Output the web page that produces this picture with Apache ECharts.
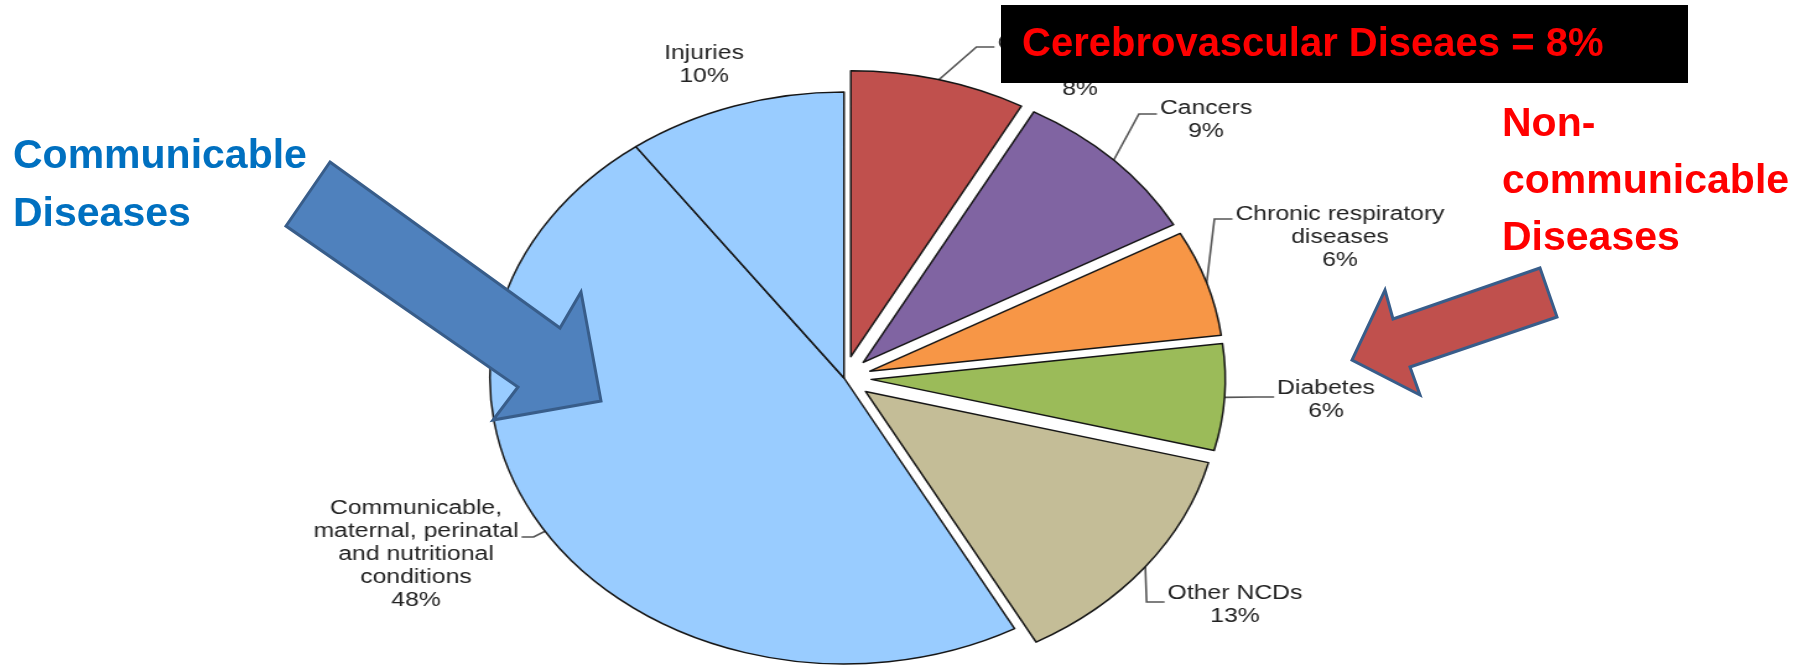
<!DOCTYPE html>
<html>
<head>
<meta charset="utf-8">
<script src="https://cdn.jsdelivr.net/npm/echarts@6/dist/echarts.min.js"></script>
<style>
  html, body { margin: 0; padding: 0; background: #fff; }
  #wrap { position: relative; width: 1808px; height: 666px; overflow: hidden; background: #fff; }
  #pie { position: absolute; left: 0; top: 0; height: 666px; transform-origin: 0 0; }
  #ann { position: absolute; left: 0; top: 0; width: 1808px; height: 666px; }
</style>
</head>
<body>
<div id="wrap"><div id="pie"></div><div id="ann"></div></div>
<script>
// ---- data ----
const categories = [
  'Cardiovascular\ndiseases',
  'Cancers',
  'Chronic respiratory\ndiseases',
  'Diabetes',
  'Other NCDs',
  'Communicable,\nmaternal, perinatal\nand nutritional\nconditions',
  'Injuries'
];
const values = [8, 9, 6, 6, 13, 48, 10];
const exploded = [true, true, true, true, true, false, false];

// ---- styling / layout ----
const SCALE_X = 1.238;               // the original pie is drawn as an ellipse
const W = 1808, H = 666;
const pieW = W / SCALE_X;
const CX = 844 / SCALE_X, CY = 378, R = 286, OFF = 22;
const colors = ['#C0504D', '#8064A2', '#F79646', '#9BBB59', '#C4BD97', '#99CCFF', '#99CCFF'];
// label centre x, centre y and leader-line anchor y, in page pixels
const labelPosPage = [[1080, 66, 47], [1206, 120, 114], [1340, 237, 219], [1326, 400, 397], [1235, 605, 602], [416, 554, 537], [704, 65, null]];

const total = values.reduce((a, b) => a + b, 0);
const midDeg = [];
{ let cum = 0; values.forEach(v => { midDeg.push((cum + v / 2) / total * 360); cum += v; }); }
function centerOf(i) {
  if (!exploded[i]) return [CX, CY];
  const a = midDeg[i] * Math.PI / 180;
  return [CX + OFF * Math.sin(a), CY - OFF * Math.cos(a)];
}

const pieEl = document.getElementById('pie');
pieEl.style.width = pieW + 'px';
pieEl.style.transform = 'scaleX(' + SCALE_X + ')';

const labelText = {
  show: true,
  position: 'outside',
  fontFamily: 'Liberation Sans',
  fontSize: 20,
  lineHeight: 23,
  color: '#222',
  formatter: p => p.name.split('\n').concat(p.value + '%').map(s => '{c|' + s + '}').join('\n'),
  rich: { c: { align: 'center', fontFamily: 'Liberation Sans', fontSize: 20, lineHeight: 23, color: '#222' } }
};

function makeSeries(visible, center) {
  return {
    type: 'pie',
    center: center,
    radius: R,
    startAngle: 90,
    clockwise: true,
    avoidLabelOverlap: false,
    emphasis: { disabled: true },
    label: labelText,
    labelLine: { show: true, length: 10, length2: 14, lineStyle: { color: '#555', width: 1.6 } },
    labelLayout: params => {
      const i = params.dataIndex;
      if (!visible[i]) return {};
      const p = labelPosPage[i];
      const x = p[0] / SCALE_X, y = p[1];
      const out = { x: x, y: y, align: 'center', verticalAlign: 'middle' };
      if (p[2] != null) {
        const c = centerOf(i);
        const a = midDeg[i] * Math.PI / 180;
        const p0 = [c[0] + R * Math.sin(a), c[1] - R * Math.cos(a)];
        const w = params.labelRect.width;
        const right = p[0] > 844;
        const edge = right ? x - w / 2 - 3 / SCALE_X : x + w / 2 + 3 / SCALE_X;
        const p1x = right ? edge - 18 / SCALE_X : edge + 12 / SCALE_X;
        out.labelLinePoints = [p0, [p1x, p[2]], [edge, p[2]]];
      }
      return out;
    },
    data: categories.map((name, i) => visible[i] ? {
      name: name,
      value: values[i],
      itemStyle: { color: colors[i], borderColor: '#151515', borderWidth: 1.5 },
      label: { show: true },
      labelLine: { show: labelPosPage[i][2] != null }
    } : {
      name: name,
      value: values[i],
      itemStyle: { color: 'rgba(0,0,0,0)', borderWidth: 0 },
      label: { show: false },
      labelLine: { show: false }
    })
  };
}

const series = [makeSeries(exploded.map(e => !e), [CX, CY])];
exploded.forEach((e, i) => {
  if (e) series.push(makeSeries(exploded.map((_, j) => j === i), centerOf(i)));
});

const pieChart = echarts.init(pieEl, null, { renderer: 'canvas', width: pieW, height: H });
pieChart.setOption({ animation: false, backgroundColor: 'transparent', series: series });

const annChart = echarts.init(document.getElementById('ann'), null, { renderer: 'canvas', width: W, height: H });
const bold = 'bold 41px "Liberation Sans", Arial, sans-serif';
annChart.setOption({
  animation: false,
  backgroundColor: 'transparent',
  graphic: [
    { type: 'rect', shape: { x: 1001, y: 5, width: 687, height: 78 }, style: { fill: '#000' } },
    { type: 'text', x: 1022, y: 45, style: { text: 'Cerebrovascular Diseaes = 8%', fill: '#FF0000', font: 'bold 40px "Liberation Sans", Arial, sans-serif', verticalAlign: 'middle' } },
    { type: 'text', x: 13, y: 128, style: { text: 'Communicable\nDiseases', fill: '#0070C0', font: bold, lineHeight: 57.5, verticalAlign: 'top' } },
    { type: 'text', x: 1502, y: 96.5, style: { text: 'Non-\ncommunicable\nDiseases', fill: '#FF0000', font: bold, lineHeight: 57, verticalAlign: 'top' } },
    { type: 'polygon', shape: { points: [[330, 162], [560, 328], [581, 292], [601, 401], [493, 420], [518, 387], [286, 226]] },
      style: { fill: '#4F81BD', stroke: '#385D8A', lineWidth: 3 } },
    { type: 'polygon', shape: { points: [[1540, 268], [1557, 317], [1410, 367], [1420, 395], [1352, 360], [1385, 290], [1393, 319]] },
      style: { fill: '#C0504D', stroke: '#385D8A', lineWidth: 3 } }
  ]
});
</script>
</body>
</html>
